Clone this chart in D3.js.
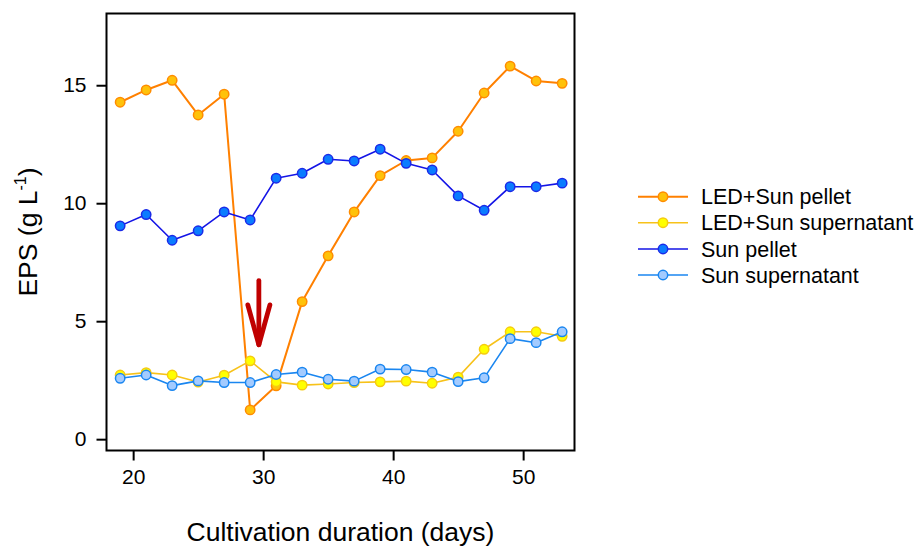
<!DOCTYPE html>
<html>
<head>
<meta charset="utf-8">
<script src="https://cdn.jsdelivr.net/npm/d3@7/dist/d3.min.js"></script>
<style>
  html, body { margin: 0; padding: 0; background: #fff; }
  svg text { font-family: "Liberation Sans", Arial, Helvetica, sans-serif; fill: #000; }
</style>
</head>
<body>
<svg id="chart" width="919" height="548"></svg>
<script>
// Sampling days
const days = [19, 21, 23, 25, 27, 29, 31, 33, 35, 37, 39, 41, 43, 45, 47, 49, 51, 53];

// EPS (g L-1) per series
const ledSunPellet = [14.28, 14.80, 15.21, 13.74, 14.62, 1.24, 2.26, 5.83, 7.77, 9.63, 11.17, 11.81, 11.92, 13.05, 14.67, 15.81, 15.18, 15.08];
const ledSunSupernatant = [2.72, 2.82, 2.72, 2.42, 2.71, 3.32, 2.43, 2.29, 2.34, 2.40, 2.43, 2.46, 2.37, 2.63, 3.81, 4.55, 4.55, 4.36];
const sunPellet = [9.04, 9.52, 8.43, 8.83, 9.63, 9.29, 11.06, 11.27, 11.86, 11.79, 12.29, 11.69, 11.41, 10.31, 9.70, 10.70, 10.70, 10.85];
const sunSupernatant = [2.58, 2.72, 2.27, 2.47, 2.40, 2.40, 2.74, 2.84, 2.54, 2.46, 2.97, 2.95, 2.84, 2.44, 2.60, 4.26, 4.09, 4.55];

const seriesNames = ["LED+Sun pellet", "LED+Sun supernatant", "Sun pellet", "Sun supernatant"];
const seriesValues = [ledSunPellet, ledSunSupernatant, sunPellet, sunSupernatant];

const xTicks = [20, 30, 40, 50];
const yTicks = [0, 5, 10, 15];

// Arrow marking the light switch (day, EPS): shaft start, tip
const arrowShaft = [[29.67, 6.72], [29.67, 4.0]];
const arrowHeadHalfWidth = 0.85;   // days
const arrowHeadDepth = 1.69;       // g L-1

// Styles per series
const styles = [
  { line: "#ff8000", fill: "#ffc20a", stroke: "#ff8c00", width: 2 },
  { line: "#f7c21a", fill: "#ffff00", stroke: "#f5cb10", width: 1.6 },
  { line: "#1414e6", fill: "#0a7cff", stroke: "#1a2ae8", width: 1.6 },
  { line: "#1a86f0", fill: "#a3cbff", stroke: "#1a86f0", width: 1.6 }
];

const svg = d3.select("#chart");
const box = { left: 106.5, right: 574.5, top: 13.5, bottom: 450.5 };

const x = d3.scaleLinear().domain([17.95, 53.95]).range([box.left, box.right]);
const y = d3.scaleLinear().domain([-0.48, 18.04]).range([box.bottom, box.top]);

// Axes
const xAxis = svg.append("g")
  .attr("transform", `translate(0,${box.bottom})`)
  .call(d3.axisBottom(x).tickValues(xTicks).tickSize(10).tickPadding(9).tickFormat(d3.format("d")));
const yAxis = svg.append("g")
  .attr("transform", `translate(${box.left},0)`)
  .call(d3.axisLeft(y).tickValues(yTicks).tickSize(10).tickPadding(10).tickFormat(d3.format("d")));
[xAxis, yAxis].forEach(g => {
  g.select(".domain").remove();
  g.selectAll(".tick line").attr("stroke", "#000").attr("stroke-width", 2);
  g.selectAll(".tick text").attr("font-size", 21)
    .style("font-family", '"Liberation Sans", Arial, sans-serif');
});

// Plot frame
svg.append("rect")
  .attr("x", box.left).attr("y", box.top)
  .attr("width", box.right - box.left).attr("height", box.bottom - box.top)
  .attr("fill", "none").attr("stroke", "#000").attr("stroke-width", 2);

// Series lines and markers
const line = d3.line().x(d => x(d[0])).y(d => y(d[1]));
seriesValues.forEach((vals, i) => {
  const pts = days.map((d, j) => [d, vals[j]]);
  const g = svg.append("g");
  g.append("path").datum(pts)
    .attr("d", line).attr("fill", "none")
    .attr("stroke", styles[i].line).attr("stroke-width", styles[i].width)
    .attr("stroke-linejoin", "round");
  g.selectAll("circle").data(pts).join("circle")
    .attr("cx", d => x(d[0])).attr("cy", d => y(d[1])).attr("r", 4.7)
    .attr("fill", styles[i].fill).attr("stroke", styles[i].stroke).attr("stroke-width", 1.5);
});

// Arrow annotation
const [arrowStart, arrowTip] = arrowShaft;
const arrow = svg.append("g")
  .attr("fill", "none").attr("stroke", "#c00000").attr("stroke-width", 4.8)
  .attr("stroke-linecap", "round").attr("stroke-linejoin", "round");
arrow.append("line")
  .attr("x1", x(arrowStart[0])).attr("y1", y(arrowStart[1]))
  .attr("x2", x(arrowTip[0])).attr("y2", y(arrowTip[1]));
arrow.append("path").attr("d", d3.line()([
  [x(arrowTip[0] - arrowHeadHalfWidth), y(arrowTip[1] + arrowHeadDepth)],
  [x(arrowTip[0]), y(arrowTip[1])],
  [x(arrowTip[0] + arrowHeadHalfWidth), y(arrowTip[1] + arrowHeadDepth)]
]));

// Axis titles
svg.append("text")
  .attr("x", (box.left + box.right) / 2).attr("y", 541)
  .attr("text-anchor", "middle").attr("font-size", 26.5)
  .text("Cultivation duration (days)");

const yTitle = svg.append("text")
  .attr("transform", `translate(37,${(box.top + box.bottom) / 2}) rotate(-90)`)
  .attr("text-anchor", "middle").attr("font-size", 26.5);
yTitle.append("tspan").text("EPS (g L");
yTitle.append("tspan").attr("font-size", 16).attr("dy", -11).text("-1");
yTitle.append("tspan").attr("dy", 11).text(")");

// Legend
const legend = svg.append("g");
const legendRows = [196.7, 222.7, 249, 275];
seriesNames.forEach((name, i) => {
  const row = legend.append("g").attr("transform", `translate(0,${legendRows[i]})`);
  row.append("line").attr("x1", 638).attr("x2", 688)
    .attr("stroke", styles[i].line).attr("stroke-width", styles[i].width);
  row.append("circle").attr("cx", 663).attr("r", 4.7)
    .attr("fill", styles[i].fill).attr("stroke", styles[i].stroke).attr("stroke-width", 1.5);
  row.append("text").attr("x", 701).attr("dy", "0.36em")
    .attr("font-size", 21.5).text(name);
});
</script>
</body>
</html>
